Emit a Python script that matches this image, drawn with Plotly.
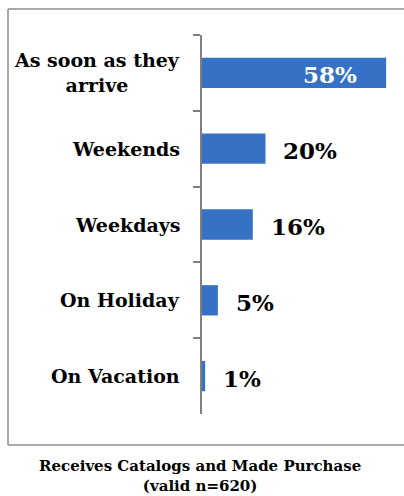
import plotly.graph_objects as go

categories = ["As soon as they<br>arrive", "Weekends", "Weekdays", "On Holiday", "On Vacation"]
values = [58, 20, 16, 5, 1]
value_labels = ["58%", "20%", "16%", "5%", "1%"]
title_lines = ["Receives Catalogs and Made Purchase", "(valid n=620)"]

BAR_COLOR = "#3572C6"
FONT = "DejaVu Serif"

fig = go.Figure()
fig.add_trace(go.Bar(
    x=values, y=categories, orientation="h",
    marker=dict(color=BAR_COLOR, line=dict(width=0)),
    hoverinfo="skip",
))

annotations = []
for cat, v, lab in zip(categories, values, value_labels):
    inside = v > 40
    annotations.append(dict(
        x=v, y=cat, xref="x", yref="y", text="<b>%s</b>" % lab, showarrow=False,
        xanchor="right" if inside else "left", xshift=-27 if inside else 16,
        yshift=-2,
        font=dict(family=FONT, size=23, color="white" if inside else "black"),
    ))
    annotations.append(dict(
        x=0, y=cat, xref="paper", yref="y", text="<b>%s</b>" % cat, showarrow=False,
        xanchor="right", xshift=-20, align="center",
        font=dict(family=FONT, size=19, color="black"),
    ))
annotations.append(dict(
    x=-0.01, y=-0.164, xref="paper", yref="paper", showarrow=False,
    text="<b>%s</b><br><b>%s</b>" % tuple(title_lines), align="center",
    xanchor="center", yanchor="middle",
    font=dict(family=FONT, size=15, color="black"),
))

# plot area: x 202..402 (200 px), y 35..414 (379 px)
FX0, FX1, FY0, FY1 = -0.97, 1.5, -0.0818, 1.0686
frame_line = dict(color="#8c8c8c", width=1.5)
shapes = [
    dict(type="line", xref="paper", yref="paper", x0=FX0, x1=FX1, y0=FY1, y1=FY1, line=frame_line),
    dict(type="line", xref="paper", yref="paper", x0=FX0, x1=FX1, y0=FY0, y1=FY0, line=frame_line),
    dict(type="line", xref="paper", yref="paper", x0=FX0, x1=FX0, y0=FY0, y1=FY1, line=frame_line),
]

fig.update_layout(
    width=404, height=496,
    margin=dict(l=202, r=2, t=35, b=82),
    paper_bgcolor="white", plot_bgcolor="white",
    showlegend=False, bargap=0.6,
    annotations=annotations,
    xaxis=dict(range=[0, 63], visible=False),
    yaxis=dict(autorange="reversed", showticklabels=False, tickson="boundaries",
               ticks="outside", ticklen=7, tickcolor="#808080", tickwidth=2,
               showline=True, linecolor="#808080", linewidth=2, showgrid=False,
               zeroline=False),
    shapes=shapes,
)

fig.write_html("out.html", config={"displayModeBar": False},
               post_script="document.body.style.margin='0';document.body.style.overflow='hidden';")
